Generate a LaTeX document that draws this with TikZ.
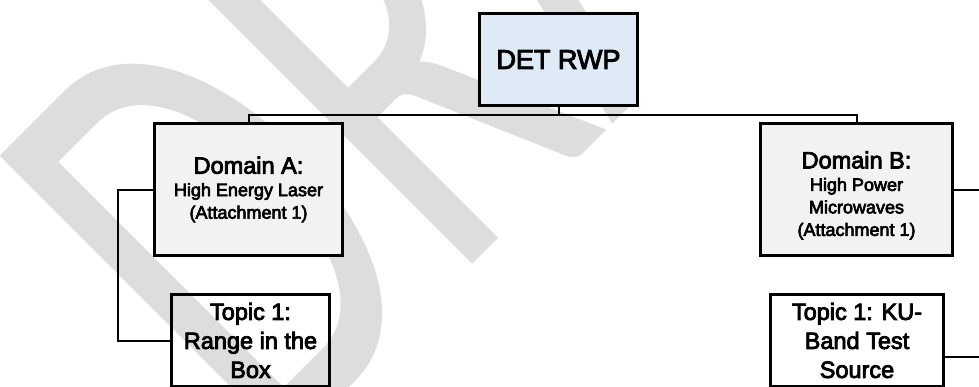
\documentclass[tikz,border=0pt]{standalone}
\usepackage{fontspec}
\setmainfont{Liberation Sans}[FakeBold=3.5]
\newfontfamily\wmfont{Carlito}
\definecolor{detblue}{HTML}{DEEBF7}
\definecolor{domgray}{HTML}{F2F2F2}
\definecolor{wmgray}{HTML}{DDDDDD}

\begin{document}
\begin{tikzpicture}[x=1pt,y=-1pt,
  box/.style={draw=black, line width=2.6pt, rectangle, inner sep=0pt, align=center},
  rootbox/.style={box, fill=detblue, font=\fontsize{27}{27}\selectfont},
  domainbox/.style={box, fill=domgray, font=\fontsize{18}{22.5}\selectfont},
  topicbox/.style={box, font=\fontsize{23.5}{29}\selectfont},
  link/.style={draw=black, line width=2pt},
  wm/.style={text=wmgray, font=\wmfont\fontsize{640}{640}\selectfont, inner sep=0pt}]
\useasboundingbox (0,0) rectangle (979,386);
\fill[white] (0,0) rectangle (979,386);

% watermark behind everything
\node[wm, anchor=base west, rotate=45] (wmark) at (270.6,466.5) {\scalebox{0.65}[1]{DRAFT}};

% boxes
\node[rootbox, minimum width=158pt, minimum height=92pt] (det) at (558.5,59.5) {DET RWP};
\node[domainbox, minimum width=187.5pt, minimum height=131.5pt] (domA) at (248.5,189.5)
  {{\fontsize{23.5}{23.5}\selectfont Domain A:}\\High Energy Laser\\(Attachment 1)};
\node[domainbox, minimum width=192.5pt, minimum height=132pt] (domB) at (856.5,189.5)
  {{\fontsize{23.5}{23.5}\selectfont\rule{0pt}{29pt}Domain B:}\\High Power\\Microwaves\\(Attachment 1)};
\node[topicbox, minimum width=158pt, minimum height=92pt] (topA) at (250.5,340.5)
  {Topic 1:\\Range in the\\Box};
\node[topicbox, minimum width=173.5pt, minimum height=92pt] (topB) at (857,340.5)
  {Topic 1: KU-\\Band Test\\Source};

% connectors
\coordinate (busy) at (0,115);
\coordinate (elbowA) at (118,189.5);
\coordinate (rgt) at (990,0);
\coordinate (tBout) at (990,357);
\draw[link] (det.south) -- (det.south |- busy) -| (domA.north);
\draw[link] (det.south |- busy) -| (domB.north);
\draw[link] (domA.west) -- (elbowA) |- (topA.west);
\draw[link] (domB.east) -- (domB.east -| rgt);
\draw[link] (topB.east |- tBout) -- (tBout);
\end{tikzpicture}
\end{document}
